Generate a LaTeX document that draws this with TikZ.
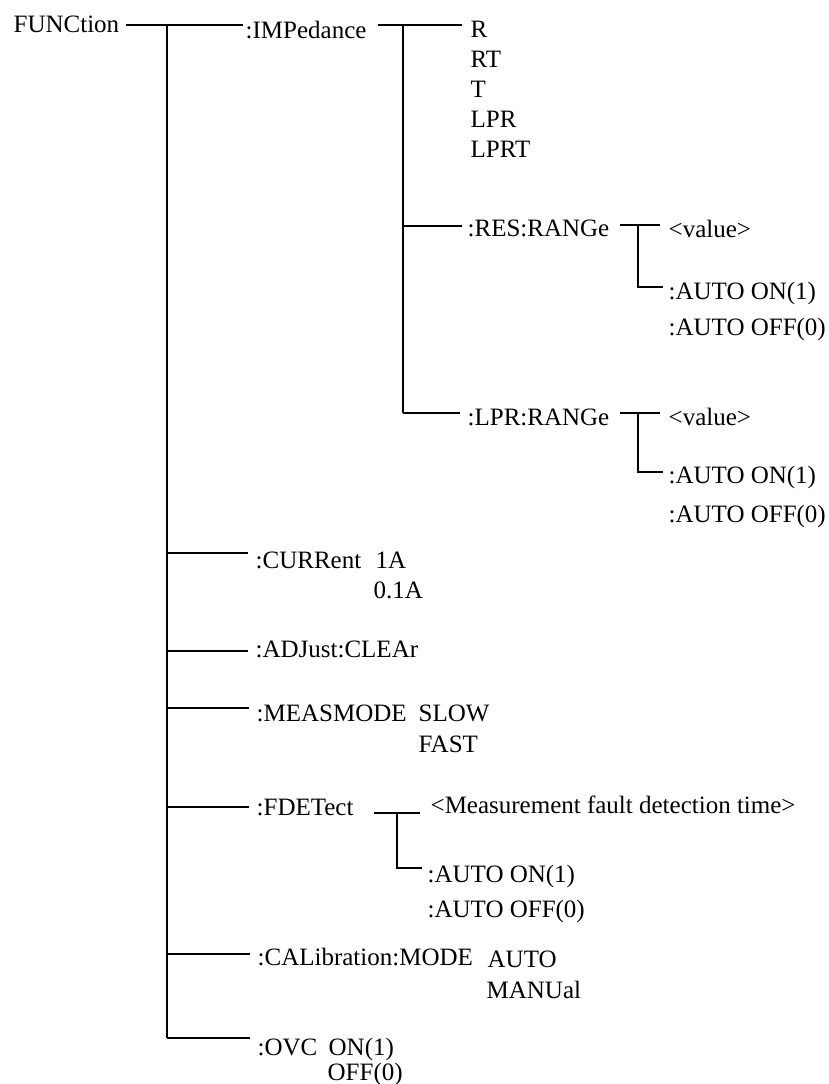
\documentclass[tikz,border=0pt]{standalone}
\usepackage{fontspec}
\setmainfont{Liberation Serif}
\begin{document}
\begin{tikzpicture}[x=0.5pt,y=-0.5pt,line width=0.65pt,
	every node/.style={inner sep=0pt,anchor=base west,font=\fontsize{12.5}{15}\selectfont}]
	\useasboundingbox (0,0) rectangle (829,1084);
	\node (func) at (13,32) {FUNCtion};
	\node (imp) at (245,38) {:IMPedance};
	\foreach \nm/\txt/\yy in {mR/R/37,mRT/RT/67,mT/T/97,mLPR/LPR/127,mLPRT/LPRT/157}
	{
		\node (\nm) at (470,\yy) {\txt};
	}
	\node (resr) at (467,236) {:RES:RANGe};
	\node (resval) at (668,237) {<value>};
	\node (reson) at (668,299) {:AUTO ON(1)};
	\node (resoff) at (668,335) {:AUTO OFF(0)};
	\node (lprr) at (467,425) {:LPR:RANGe};
	\node (lprval) at (668,425) {<value>};
	\node (lpron) at (668,483) {:AUTO ON(1)};
	\node (lproff) at (668,522) {:AUTO OFF(0)};
	\node (curr) at (255,568) {:CURRent};
	\node (cur1) at (375,568) {1A};
	\node (cur01) at (373,598) {0.1A};
	\node (adj) at (255,657) {:ADJust:CLEAr};
	\node (meas) at (256,721) {:MEASMODE};
	\node (slow) at (418,721) {SLOW};
	\node (fast) at (418,752) {FAST};
	\node (fdet) at (256,815) {:FDETect};
	\node (fdval) at (430,813) {<Measurement fault detection time>};
	\node (fdon) at (427,882) {:AUTO ON(1)};
	\node (fdoff) at (427,917) {:AUTO OFF(0)};
	\node (cal) at (257,965) {:CALibration:MODE};
	\node (calauto) at (487,967) {AUTO};
	\node (calman) at (486,998) {MANUal};
	\node (ovc) at (257,1055) {:OVC};
	\node (ovcon) at (328,1055) {ON(1)};
	\node (ovcoff) at (327,1080) {OFF(0)};
	\coordinate (t0) at (167,25);
	\coordinate (t1) at (167,553);
	\coordinate (t2) at (167,651);
	\coordinate (t3) at (167,708);
	\coordinate (t4) at (167,807);
	\coordinate (t5) at (167,954);
	\coordinate (t6) at (167,1038);
	\coordinate (i0) at (403,25);
	\coordinate (i1) at (403,226);
	\coordinate (i2) at (403,413);
	\coordinate (r0) at (638,225);
	\coordinate (r1) at (638,287);
	\coordinate (l0) at (638,413);
	\coordinate (l1) at (638,472);
	\coordinate (f0) at (397,813);
	\coordinate (f1) at (397,868);
	\draw[shorten <=3pt,shorten >=1pt] (t0 -| func.east) -- (t0 -| imp.west);
	\draw (t0) -- (t6);
	\foreach \tt/\lab in {t1/curr,t2/adj,t3/meas,t4/fdet,t5/cal,t6/ovc}
	{
		\draw[shorten >=3.5pt] (\tt) -- (\tt -| \lab.west);
	}
	\draw[shorten <=5.5pt,shorten >=4pt] (i0 -| imp.east) -- (i0 -| mR.west);
	\draw (i0) -- (i2);
	\draw[shorten >=2.5pt] (i1) -- (i1 -| resr.west);
	\draw[shorten >=3.5pt] (i2) -- (i2 -| lprr.west);
	\draw[shorten <=5pt,shorten >=4pt] (r0 -| resr.east) -- (r0 -| resval.west);
	\draw[shorten >=2.5pt] (r0) |- (r1 -| reson.west);
	\draw[shorten <=5pt,shorten >=4pt] (l0 -| lprr.east) -- (l0 -| lprval.west);
	\draw[shorten >=2.5pt] (l0) |- (l1 -| lpron.west);
	\draw[shorten <=10pt,shorten >=5pt] (f0 -| fdet.east) -- (f0 -| fdval.west);
	\draw[shorten >=2.5pt] (f0) |- (f1 -| fdon.west);
\end{tikzpicture}
\end{document}
